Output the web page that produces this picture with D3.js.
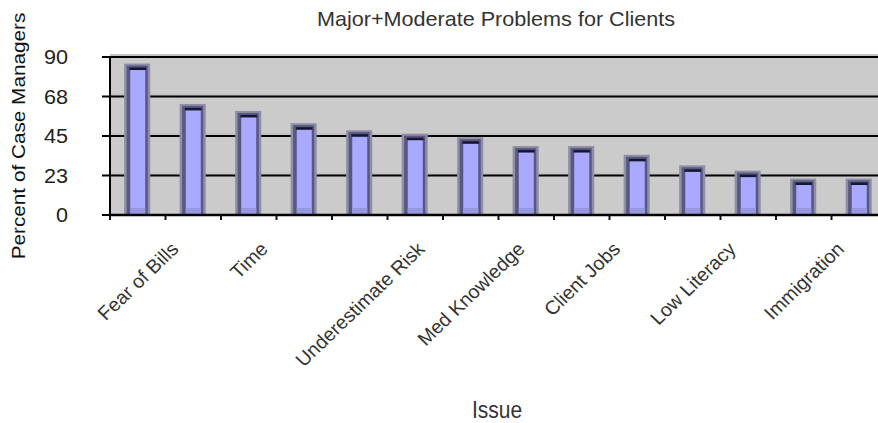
<!DOCTYPE html>
<html>
<head>
<meta charset="utf-8">
<script src="https://cdn.jsdelivr.net/npm/d3@7"></script>
<style>
  html, body { margin: 0; padding: 0; background: #ffffff; }
  svg { display: block; }
  text { font-family: "Liberation Sans", Arial, sans-serif; }
</style>
</head>
<body>
<svg id="chart" width="878" height="423"></svg>
<script>
// ---- data ----
const title = "Major+Moderate Problems for Clients";
const xAxisTitle = "Issue";
const yAxisTitle = "Percent of Case Managers";
// 14 issues; only every other one carries a visible label in the chart
const categories = ["Fear of Bills", "", "Time", "", "Underestimate Risk", "", "Med Knowledge", "",
                    "Client Jobs", "", "Low Literacy", "", "Immigration", ""];
const values = [84, 61, 57, 50, 46, 44, 42, 37, 37, 32, 26, 23, 18.5, 18.5];
const yTickValues = [0, 22.5, 45, 67.5, 90];
const yTickLabels = ["0", "23", "45", "68", "90"];

// ---- layout ----
const SX = 1.8, SY = 1.73;           // text stretch of the original picture
const plot = {left: 110, right: 887, top: 57, bottom: 215};

const svg = d3.select("#chart");

const x = d3.scaleBand()
  .domain(d3.range(categories.length))
  .range([plot.left, plot.right])
  .padding(0);
const y = d3.scaleLinear().domain([0, 90]).range([plot.bottom, plot.top]);

// plot background
svg.append("rect")
  .attr("x", plot.left).attr("y", plot.top)
  .attr("width", plot.right - plot.left).attr("height", plot.bottom - plot.top)
  .attr("fill", "#cbcbcb");

// slight shading strip above each grid line
svg.append("g").selectAll("rect").data(yTickValues.filter(d => d > 0))
  .join("rect")
  .attr("x", plot.left).attr("width", plot.right - plot.left)
  .attr("y", d => y(d) - 3).attr("height", 3)
  .attr("fill", "#c3c3c3");

// gridlines
svg.append("g").selectAll("line").data(yTickValues)
  .join("line")
  .attr("x1", plot.left).attr("x2", plot.right)
  .attr("y1", d => y(d)).attr("y2", d => y(d))
  .attr("stroke", "#000").attr("stroke-width", 2);

// bars
const bw = x.bandwidth();
const bars = svg.append("g").selectAll("g").data(values).join("g")
  .attr("transform", (d, i) => `translate(${x(i) + bw / 2},0)`);

// halo
bars.append("rect")
  .attr("x", -bw * 0.245).attr("width", bw * 0.47)
  .attr("y", d => y(d) - 4).attr("height", d => plot.bottom - y(d) + 4)
  .attr("fill", "#8e8ea6");
// dark frame
bars.append("rect")
  .attr("x", -bw * 0.2).attr("width", bw * 0.38)
  .attr("y", d => y(d) - 2).attr("height", d => plot.bottom - y(d) + 2)
  .attr("fill", "#575782");
// inner fill
bars.append("rect")
  .attr("x", -bw * 0.135).attr("width", bw * 0.27)
  .attr("y", d => y(d) + 2).attr("height", d => Math.max(0, plot.bottom - y(d) - 2))
  .attr("fill", "#a9a9ff");
// bottom darker band
bars.append("rect")
  .attr("x", -bw * 0.135).attr("width", bw * 0.27)
  .attr("y", plot.bottom - 7).attr("height", 7)
  .attr("fill", "#9797e0");
// top dark line
bars.append("rect")
  .attr("x", -bw * 0.15).attr("width", bw * 0.3)
  .attr("y", d => y(d)).attr("height", 2.5)
  .attr("fill", "#16162e");

// axes lines
svg.append("line")
  .attr("x1", plot.left).attr("x2", plot.right)
  .attr("y1", plot.bottom).attr("y2", plot.bottom)
  .attr("stroke", "#000").attr("stroke-width", 2.5);
svg.append("line")
  .attr("x1", plot.left).attr("x2", plot.left)
  .attr("y1", plot.top - 1).attr("y2", plot.bottom + 1)
  .attr("stroke", "#000").attr("stroke-width", 2);

// y tick marks
svg.append("g").selectAll("line").data(yTickValues).join("line")
  .attr("x1", plot.left - 8).attr("x2", plot.left)
  .attr("y1", d => y(d)).attr("y2", d => y(d))
  .attr("stroke", "#000").attr("stroke-width", 2);

// x tick marks at category boundaries
svg.append("g").selectAll("line").data(d3.range(categories.length)).join("line")
  .attr("x1", i => x(i)).attr("x2", i => x(i))
  .attr("y1", plot.bottom).attr("y2", plot.bottom + 5)
  .attr("stroke", "#111").attr("stroke-width", 2);

// y tick labels
svg.append("g").selectAll("text").data(yTickValues).join("text")
  .attr("transform", d => `translate(68,${y(d)}) scale(${SX},${SY})`)
  .attr("text-anchor", "end")
  .attr("dy", "0.36em")
  .attr("font-size", 12)
  .attr("fill", "#222")
  .text((d, i) => yTickLabels[i]);

// x tick labels (rotated, centred on category, top aligned)
const labelTop = 240;
const xl = svg.append("g");
categories.forEach((c, i) => {
  if (!c) return;
  const t = xl.append("text")
    .attr("font-size", 11)
    .attr("text-anchor", "middle")
    .attr("dominant-baseline", "central")
    .attr("fill", "#333")
    .text(c);
  const L = t.node().getComputedTextLength();
  const h = 9;
  const half = (L + h) * Math.SQRT1_2 * SY / 2;
  t.attr("transform", `translate(${x(i) + bw / 2},${labelTop + half}) scale(${SX},${SY}) rotate(-45)`);
});

// title
svg.append("text")
  .attr("transform", `translate(496,26) scale(${SX},${SY})`)
  .attr("text-anchor", "middle")
  .attr("font-size", 12)
  .attr("fill", "#333")
  .text(title);

// x axis title
svg.append("text")
  .attr("transform", `translate(497,418) scale(1.75,2.0)`)
  .attr("text-anchor", "middle")
  .attr("font-size", 12)
  .attr("fill", "#333")
  .text(xAxisTitle);

// y axis title
svg.append("text")
  .attr("transform", `translate(25,136) scale(1.55,${SY}) rotate(-90)`)
  .attr("text-anchor", "middle")
  .attr("font-size", 12)
  .attr("fill", "#111")
  .text(yAxisTitle);
</script>
</body>
</html>
